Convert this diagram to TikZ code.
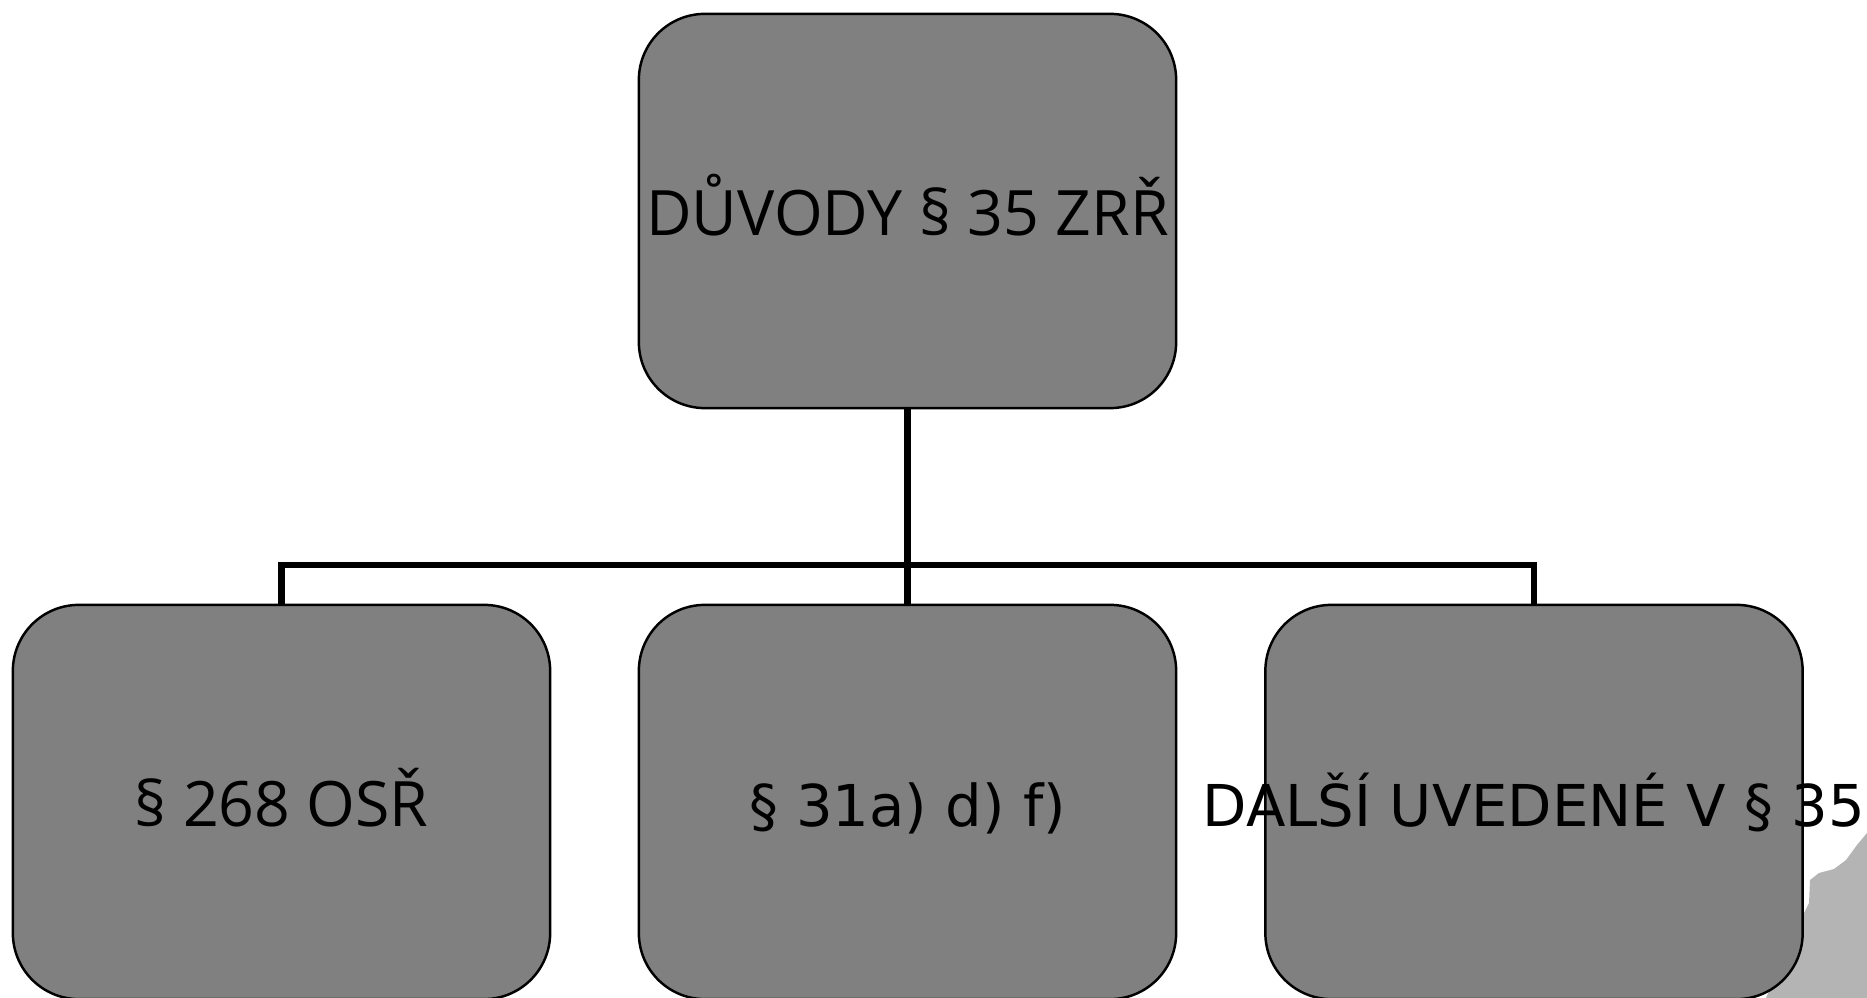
\documentclass[tikz,border=0pt]{standalone}
\usepackage{fontspec}
\setmainfont{Open Sans}
\newfontfamily\dejavu{DejaVu Sans}

\definecolor{boxgray}{HTML}{808080}
\definecolor{shadegray}{HTML}{B4B4B4}

\begin{document}
\begin{tikzpicture}[
        x=0.01cm, y=-0.01cm,
        reason/.style={draw, line width=0.7pt, fill=boxgray, rounded corners=0.66cm,
            minimum width=5.37cm, minimum height=3.94cm, inner sep=0pt,
            text height=13.9pt, text depth=0pt,
            font=\fontsize{17.8}{21}\selectfont},
        wide/.style={font=\dejavu\fontsize{16.4}{20}\selectfont}, % wider face for two boxes
        link/.style={draw, line width=1.9pt}
    ]
    \useasboundingbox (0,0) rectangle (1867,998);
    % light shape in the corner, behind the boxes
    \fill[shadegray] (1867,833) -- (1857,845) -- (1846,860) -- (1834,869) -- (1819,873)
        -- (1810,880) -- (1809,903) -- (1803,915) -- (1765,1000) -- (1867,1000) -- cycle;

    \node[reason] (root) at (907.5,211) {DŮVODY § 35 ZRŘ};
    \node[reason] (osr) at (281.5,802) {§ 268 OSŘ};
    \node[reason, wide] (clen) at (907.5,802) {§ 31a) d) f)};
    \node[reason, wide] (dalsi) at (1534,802) {\makebox[0pt]{DALŠÍ UVEDENÉ V § 35}};

    \coordinate (fork) at (907.5,565);
    \draw[link] (root.south) -- (fork);
    \draw[link] (osr.north) |- (fork) -| (dalsi.north);
    \draw[link] (fork) -- (clen.north);
\end{tikzpicture}
\end{document}
